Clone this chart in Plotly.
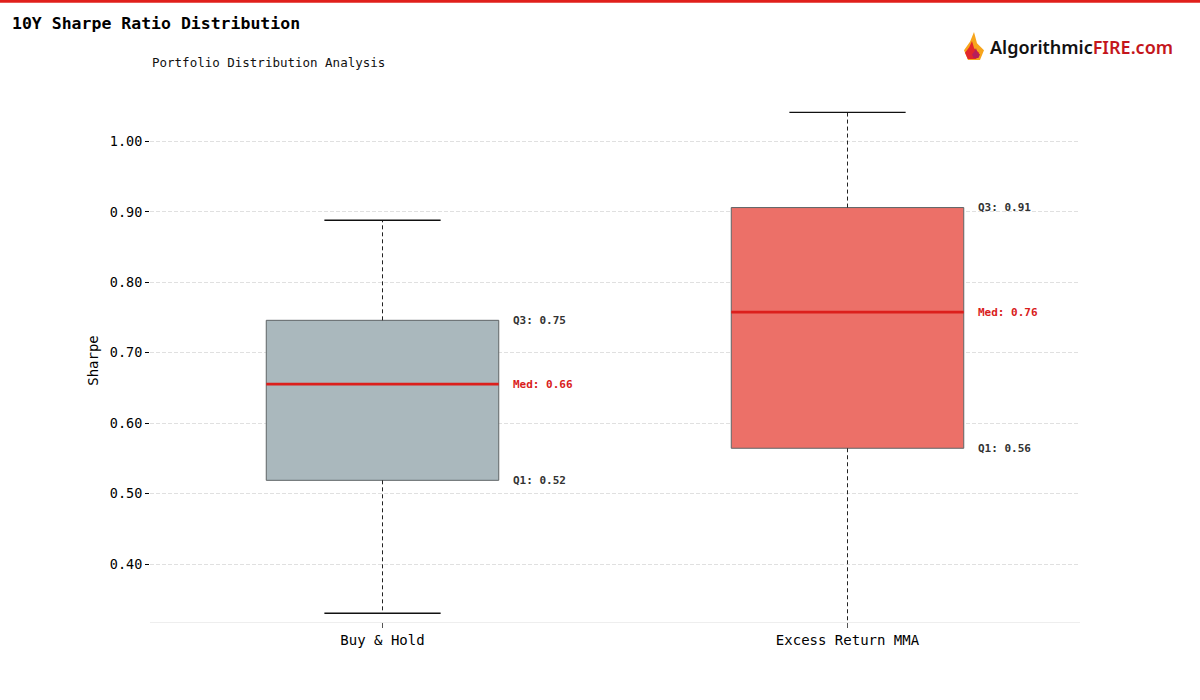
import plotly.graph_objects as go

# ---- data ----
categories = ["Buy & Hold", "Excess Return MMA"]
q1_vals = [0.519, 0.5645]
median_vals = [0.6555, 0.7575]
q3_vals = [0.746, 0.906]
lower_whisker = [0.3305, 0.29]
upper_whisker = [0.888, 1.041]
q1_labels = ["Q1: 0.52", "Q1: 0.56"]
med_labels = ["Med: 0.66", "Med: 0.76"]
q3_labels = ["Q3: 0.75", "Q3: 0.91"]
y_ticks = [0.40, 0.50, 0.60, 0.70, 0.80, 0.90, 1.00]

fill_colors = ["#aab8bd", "#ec7068"]

W, H = 1200, 700
ML, MR, MT, MB = 150, 120, 99, 78
PW, PH = W - ML - MR, H - MT - MB


def px_x(px):
    return (px - ML) / PW


def px_y(py):
    return (H - MB - py) / PH


MONO = "DejaVu Sans Mono"
BOX_W = 0.5
CAP_W = 0.25

fig = go.Figure()

for i, cat in enumerate(categories):
    fig.add_trace(go.Box(
        x=[i], q1=[q1_vals[i]], median=[median_vals[i]], q3=[q3_vals[i]],
        lowerfence=[q1_vals[i]], upperfence=[q3_vals[i]],
        width=BOX_W, fillcolor=fill_colors[i],
        line=dict(color="#5f6466", width=1), boxpoints=False,
        whiskerwidth=0, hoverinfo="skip", showlegend=False,
    ))
    # whiskers (dashed)
    fig.add_trace(go.Scatter(
        x=[i, i, None, i, i],
        y=[q3_vals[i], upper_whisker[i], None, q1_vals[i], lower_whisker[i]],
        mode="lines", line=dict(color="#222222", width=1, dash="4px,3px"),
        hoverinfo="skip", showlegend=False,
    ))
    # caps
    fig.add_trace(go.Scatter(
        x=[i - CAP_W / 2, i + CAP_W / 2, None, i - CAP_W / 2, i + CAP_W / 2],
        y=[upper_whisker[i], upper_whisker[i], None, lower_whisker[i], lower_whisker[i]],
        mode="lines", line=dict(color="#111111", width=1.4),
        hoverinfo="skip", showlegend=False,
    ))
    # median
    fig.add_trace(go.Scatter(
        x=[i - BOX_W / 2, i + BOX_W / 2],
        y=[median_vals[i], median_vals[i]],
        mode="lines", line=dict(color="#dc1f1c", width=2.8),
        hoverinfo="skip", showlegend=False,
    ))
    lx = i + BOX_W / 2 + 0.027
    for val, txt, col in [(q3_vals[i], q3_labels[i], "#333333"),
                          (median_vals[i], med_labels[i], "#d91c1c"),
                          (q1_vals[i], q1_labels[i], "#333333")]:
        fig.add_annotation(x=lx, y=val, xref="x", yref="y", text=f"<b>{txt}</b>",
                           showarrow=False, xanchor="left", yanchor="middle",
                           font=dict(family=MONO, size=11, color=col))

# subtitle
fig.add_annotation(x=0, y=px_y(63), xref="paper", yref="paper",
                   text="Portfolio Distribution Analysis", showarrow=False,
                   xanchor="left", yanchor="middle",
                   font=dict(family=MONO, size=12.5, color="#111111"))

# logo text
fig.add_annotation(x=px_x(988), y=px_y(47), xref="paper", yref="paper",
                   text="<span style='color:#111111'>Algorithmic</span><span style='color:#c4161c'>FIRE.com</span>",
                   showarrow=False, xanchor="left", yanchor="middle",
                   font=dict(family="Noto Sans", size=18, color="#111111", weight=600))

# top red rule
fig.add_shape(type="line", xref="paper", yref="paper",
              x0=px_x(0), x1=px_x(W), y0=px_y(1.2), y1=px_y(1.2),
              line=dict(color="#e0201b", width=3))


# flame icon (simple)
def flame_path(cx, cy, w, h):
    pts = [(cx, cy - h / 2), (cx + w * 0.15, cy - h * 0.1), (cx + w / 2, cy + h * 0.15),
           (cx + w * 0.3, cy + h / 2), (cx - w * 0.3, cy + h / 2), (cx - w / 2, cy + h * 0.15),
           (cx - w * 0.2, cy - h * 0.15)]
    d = "M " + " L ".join(f"{px_x(x):.5f},{px_y(y):.5f}" for x, y in pts) + " Z"
    return d


fig.add_shape(type="path", xref="paper", yref="paper", path=flame_path(974, 46, 20, 28),
              fillcolor="#f7a51c", line=dict(width=0))
fig.add_shape(type="path", xref="paper", yref="paper", path=flame_path(972, 50, 14, 18),
              fillcolor="#e2262b", line=dict(width=0))
fig.add_shape(type="path", xref="paper", yref="paper", path=flame_path(976, 53, 8, 10),
              fillcolor="#b71f5a", line=dict(width=0))

fig.update_layout(
    width=W, height=H,
    margin=dict(l=ML, r=MR, t=MT, b=MB),
    paper_bgcolor="white", plot_bgcolor="white",
    title=dict(text="<b>10Y Sharpe Ratio Distribution</b>", x=12 / W, xanchor="left",
               xref="container", y=1 - 23 / H, yref="container", yanchor="middle",
               font=dict(family=MONO, size=16.5, color="#000000")),
    showlegend=False,
    hovermode=False,
    font=dict(family=MONO, color="#000000"),
)
fig.update_xaxes(
    range=[-0.5, 1.5], tickvals=list(range(len(categories))), ticktext=categories,
    showgrid=False, zeroline=False, showline=True, linecolor="#eeeeee", linewidth=1,
    ticks="outside", ticklen=5, tickcolor="#555555", tickwidth=1,
    tickfont=dict(family=MONO, size=14, color="#000000"),
)
fig.update_yaxes(
    range=[0.318, 1.06], tickvals=y_ticks, tickformat=".2f",
    showgrid=True, gridcolor="#e0e0e0", griddash="4px,2px", gridwidth=1,
    zeroline=False, showline=False,
    ticks="outside", ticklen=4, tickcolor="#000000", tickwidth=1,
    tickfont=dict(family=MONO, size=13.5, color="#000000"),
    title=dict(text="Sharpe", font=dict(family=MONO, size=14, color="#000000"), standoff=7),
)

fig.write_html("out.html", config={"displayModeBar": False},
               post_script="document.body.style.margin='0';")
